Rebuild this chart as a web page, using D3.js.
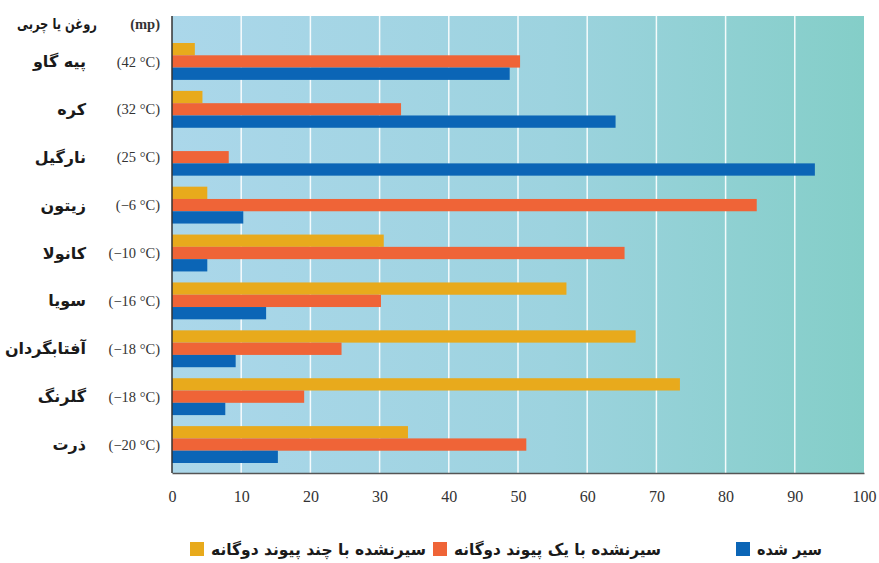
<!DOCTYPE html>
<html>
<head>
<meta charset="utf-8">
<title>Fat composition</title>
<script src="https://d3js.org/d3.v7.min.js"></script>
<style>
  body { margin: 0; background: #fff; }
  .fa { font-family: "DejaVu Sans", sans-serif; font-weight: bold; fill: #1a1a1a; }
  .serif { font-family: "Liberation Serif", "DejaVu Serif", serif; fill: #333; }
</style>
</head>
<body>
<script>
// oils, top to bottom
var oils = ["پیه گاو", "کره", "نارگیل", "زیتون", "کانولا", "سویا", "آفتابگردان", "گلرنگ", "ذرت"];
var meltingPoints = ["(42 °C)", "(32 °C)", "(25 °C)", "(−6 °C)", "(−10 °C)", "(−16 °C)", "(−18 °C)", "(−18 °C)", "(−20 °C)"];

// percent of each fatty acid type
var polyunsaturated = [3.3, 4.4, 0, 5.1, 30.6, 57, 67, 73.4, 34.1];
var monounsaturated = [50.3, 33.1, 8.2, 84.5, 65.4, 30.2, 24.5, 19.1, 51.2];
var saturated = [48.8, 64.1, 92.9, 10.3, 5.1, 13.6, 9.2, 7.7, 15.3];

var seriesKeys = ["poly", "mono", "sat"];
var seriesNames = ["سیرنشده با چند پیوند دوگانه", "سیرنشده با یک پیوند دوگانه", "سیر شده"];
var seriesColors = ["#e8aa1c", "#ef6437", "#0b65b6"];
var xTicks = [0, 10, 20, 30, 40, 50, 60, 70, 80, 90, 100];

var width = 879, height = 563;
var plot = { left: 172, right: 864, top: 16, bottom: 473 };

var rows = oils.map(function(name, i) {
  return { name: name, mp: meltingPoints[i], poly: polyunsaturated[i], mono: monounsaturated[i], sat: saturated[i] };
});

var svg = d3.select("body").append("svg")
  .attr("width", width)
  .attr("height", height);

var x = d3.scaleLinear().domain([0, 100]).range([plot.left, plot.right]);

var y = d3.scaleBand()
  .domain(oils)
  .range([37.5, 468.5])
  .paddingInner(0.23)
  .paddingOuter(0.115);

var ySub = d3.scaleBand()
  .domain(seriesKeys)
  .range([0, y.bandwidth()]);

// background gradient
var grad = svg.append("defs").append("linearGradient")
  .attr("id", "bg")
  .attr("x1", "0%").attr("x2", "100%").attr("y1", "0%").attr("y2", "0%");
grad.append("stop").attr("offset", "0%").attr("stop-color", "#abd7ea");
grad.append("stop").attr("offset", "55%").attr("stop-color", "#9dd3df");
grad.append("stop").attr("offset", "100%").attr("stop-color", "#84cec8");

svg.append("rect")
  .attr("x", plot.left)
  .attr("y", plot.top)
  .attr("width", plot.right - plot.left)
  .attr("height", plot.bottom - plot.top)
  .attr("fill", "url(#bg)");

// white grid lines
svg.append("g").selectAll("line")
  .data(xTicks.slice(1, -1))
  .enter().append("line")
  .attr("x1", function(d) { return x(d); })
  .attr("x2", function(d) { return x(d); })
  .attr("y1", plot.top)
  .attr("y2", plot.bottom)
  .attr("stroke", "#fff")
  .attr("stroke-width", 1.5)
  .attr("stroke-opacity", 0.9);

// bars
var group = svg.append("g").selectAll("g")
  .data(rows)
  .enter().append("g")
  .attr("transform", function(d) { return "translate(0," + y(d.name) + ")"; });

group.selectAll("rect")
  .data(function(d) { return seriesKeys.map(function(k, j) { return { key: k, value: d[k], color: seriesColors[j] }; }); })
  .enter().append("rect")
  .attr("x", x(0))
  .attr("y", function(d) { return ySub(d.key); })
  .attr("width", function(d) { return x(d.value) - x(0); })
  .attr("height", ySub.bandwidth())
  .attr("fill", function(d) { return d.color; });

// axes lines
svg.append("line")
  .attr("x1", plot.left).attr("x2", plot.left)
  .attr("y1", plot.top).attr("y2", plot.bottom)
  .attr("stroke", "#333").attr("stroke-width", 1.5);

var xAxis = svg.append("g")
  .attr("transform", "translate(0," + plot.bottom + ")")
  .call(d3.axisBottom(x).tickValues(xTicks).tickSize(0).tickPadding(18));
xAxis.select(".domain").attr("stroke", "#555").attr("stroke-width", 1.5);
xAxis.selectAll("text")
  .attr("class", "serif")
  .style("font-size", "16px")
  .attr("fill", "#333");

// row labels
var labels = svg.append("g").selectAll("g")
  .data(rows)
  .enter().append("g")
  .attr("transform", function(d) { return "translate(0," + (y(d.name) + y.bandwidth() / 2) + ")"; });

labels.append("text")
  .attr("class", "fa")
  .attr("x", 86)
  .attr("dy", "0.35em")
  .attr("text-anchor", "end")
  .style("font-size", "16px")
  .text(function(d) { return d.name; });

labels.append("text")
  .attr("class", "serif")
  .attr("x", 160)
  .attr("dy", "0.35em")
  .attr("text-anchor", "end")
  .style("font-size", "14.5px")
  .text(function(d) { return d.mp; });

// header
svg.append("text")
  .attr("class", "fa")
  .attr("x", 97).attr("y", 24).attr("dy", "0.35em")
  .attr("text-anchor", "end")
  .attr("textLength", 80)
  .attr("lengthAdjust", "spacingAndGlyphs")
  .style("font-size", "15px")
  .text("روغن یا چربی");

svg.append("text")
  .attr("class", "serif")
  .attr("x", 160).attr("y", 24).attr("dy", "0.35em")
  .attr("text-anchor", "end")
  .style("font-size", "14.5px")
  .style("font-weight", "bold")
  .text("(mp)");

// legend
var legendX = [190, 433, 736];
var legendW = [215, 207, 65];
var legend = svg.append("g").selectAll("g")
  .data(seriesNames)
  .enter().append("g")
  .attr("transform", function(d, i) { return "translate(" + legendX[i] + ",549)"; });

legend.append("rect")
  .attr("x", 0).attr("y", -7)
  .attr("width", 14).attr("height", 14)
  .attr("fill", function(d, i) { return seriesColors[i]; });

legend.append("text")
  .attr("class", "fa")
  .attr("x", 21)
  .attr("dy", "0.35em")
  .attr("text-anchor", "start")
  .attr("textLength", function(d, i) { return legendW[i]; })
  .attr("lengthAdjust", "spacingAndGlyphs")
  .style("font-size", "16px")
  .text(function(d) { return d; });
</script>
</body>
</html>
